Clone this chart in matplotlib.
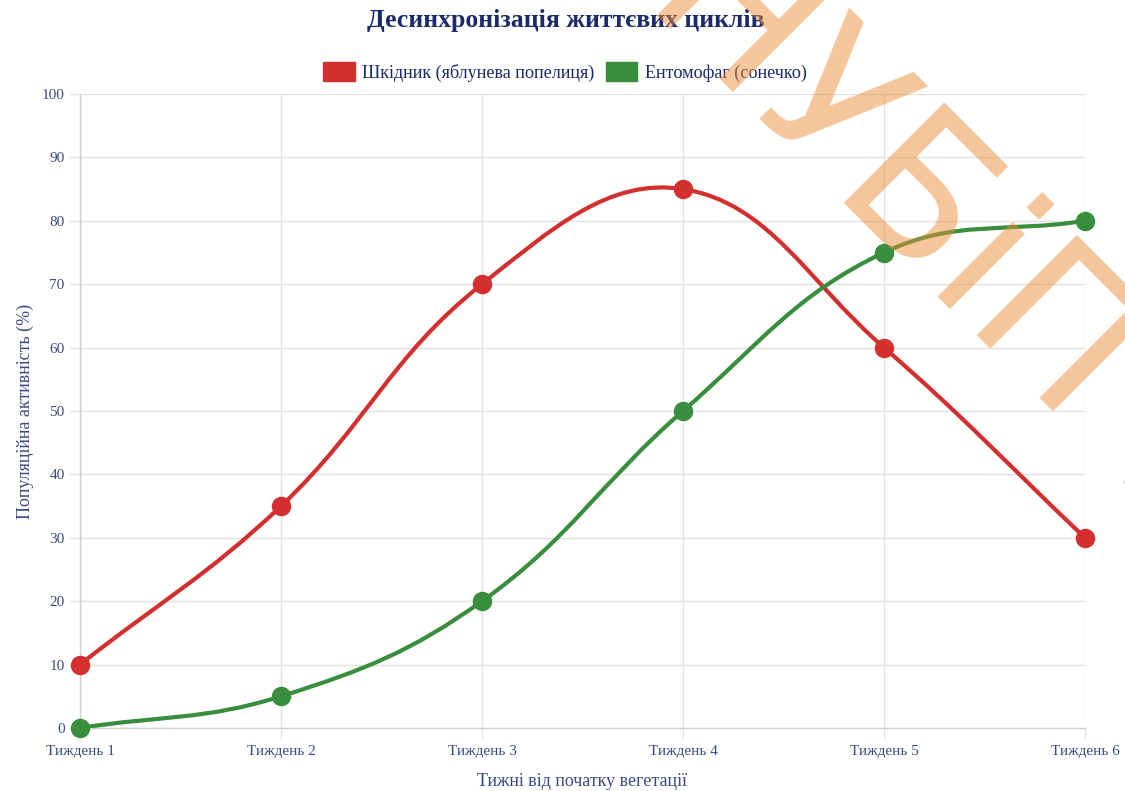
import matplotlib
matplotlib.use("Agg")
import matplotlib.pyplot as plt
import numpy as np
from matplotlib.path import Path
from matplotlib.patches import PathPatch, Patch

plt.rcParams['font.family'] = ['Liberation Serif', 'DejaVu Serif']

weeks = ["Тиждень 1", "Тиждень 2", "Тиждень 3", "Тиждень 4", "Тиждень 5", "Тиждень 6"]
pest = [10, 35, 70, 85, 60, 30]
predator = [0, 5, 20, 50, 75, 80]

pest_label = "Шкідник (яблунева попелиця)"
predator_label = "Ентомофаг (сонечко)"
red = "#d32f2f"
green = "#388e3c"
navy = "#1a2a6c"
tick_col = "#3b4a85"
grid_col = "#e2e2e2"

W, H = 1125, 791
fig = plt.figure(figsize=(W / 100, H / 100), dpi=100)
ax = fig.add_axes([80 / W, 1 - 728 / H, (1085 - 80) / W, (728 - 94) / H])

# pixel scale used for the spline distances (like chart.js does)
sx = 201.0
sy = 6.34


def spline_path(vals, t=0.4):
    x = np.arange(len(vals), dtype=float)
    y = np.array(vals, dtype=float)
    n = len(x)
    cp_prev = []
    cp_next = []
    for i in range(n):
        p = (x[max(i - 1, 0)], y[max(i - 1, 0)])
        c = (x[i], y[i])
        nx = (x[min(i + 1, n - 1)], y[min(i + 1, n - 1)])
        d01 = np.hypot((c[0] - p[0]) * sx, (c[1] - p[1]) * sy)
        d12 = np.hypot((nx[0] - c[0]) * sx, (nx[1] - c[1]) * sy)
        tot = d01 + d12
        s01 = d01 / tot if tot else 0
        s12 = d12 / tot if tot else 0
        fa, fb = t * s01, t * s12
        dx, dy = nx[0] - p[0], nx[1] - p[1]
        cp_prev.append((c[0] - fa * dx, min(max(c[1] - fa * dy, 0), 100)))
        cp_next.append((c[0] + fb * dx, min(max(c[1] + fb * dy, 0), 100)))
    verts = [(x[0], y[0])]
    codes = [Path.MOVETO]
    for i in range(n - 1):
        verts += [cp_next[i], cp_prev[i + 1], (x[i + 1], y[i + 1])]
        codes += [Path.CURVE4] * 3
    return Path(verts, codes)


for vals, col in [(pest, red), (predator, green)]:
    ax.add_patch(PathPatch(spline_path(vals), fill=False, edgecolor=col,
                           lw=3, capstyle='round', joinstyle='round', zorder=3))
    ax.plot(range(len(vals)), vals, 'o', color=col, ms=13, mec=col, zorder=4,
            clip_on=False)

ax.set_xlim(0, len(weeks) - 1)
ax.set_ylim(0, 100)
ax.set_xticks(range(len(weeks)))
ax.set_xticklabels(weeks)
ax.set_yticks(range(0, 101, 10))
ax.grid(True, color=grid_col, lw=1)
ax.set_axisbelow(True)
for s in ['top', 'right']:
    ax.spines[s].set_visible(False)
for s in ['left', 'bottom']:
    ax.spines[s].set_color("#cfcfcf")
    ax.spines[s].set_linewidth(1)
ax.tick_params(axis='both', colors=grid_col, length=8, width=1,
               labelcolor=tick_col, labelsize=11, pad=3)
ax.tick_params(axis='x', pad=4)

ax.set_xlabel("Тижні від початку вегетації", color=tick_col, fontsize=13, labelpad=11)
ax.set_ylabel("Популяційна активність (%)", color=tick_col, fontsize=13, labelpad=6)

fig.text(566 / W, 1 - 20 / H, "Десинхронізація життєвих циклів", ha='center', va='center',
         fontsize=18.5, fontweight='bold', color=navy)

handles = [Patch(facecolor=red, edgecolor=red), Patch(facecolor=green, edgecolor=green)]
fig.legend(handles, [pest_label, predator_label], loc='center', bbox_to_anchor=(565 / W, 1 - 72 / H),
           ncol=2, frameon=False, fontsize=13.1, handlelength=1.75, handleheight=1.25,
           handletextpad=0.4, columnspacing=0.6, labelcolor=navy, borderpad=0)

# watermark
fig.text(642 / W, 1 - 2 / H, "НУБіП України", family='DejaVu Sans', fontsize=140, color="#ec8d38",
         alpha=0.5, rotation=-45, rotation_mode='anchor', ha='left', va='baseline', zorder=10)

fig.savefig("out.png", dpi=100)
